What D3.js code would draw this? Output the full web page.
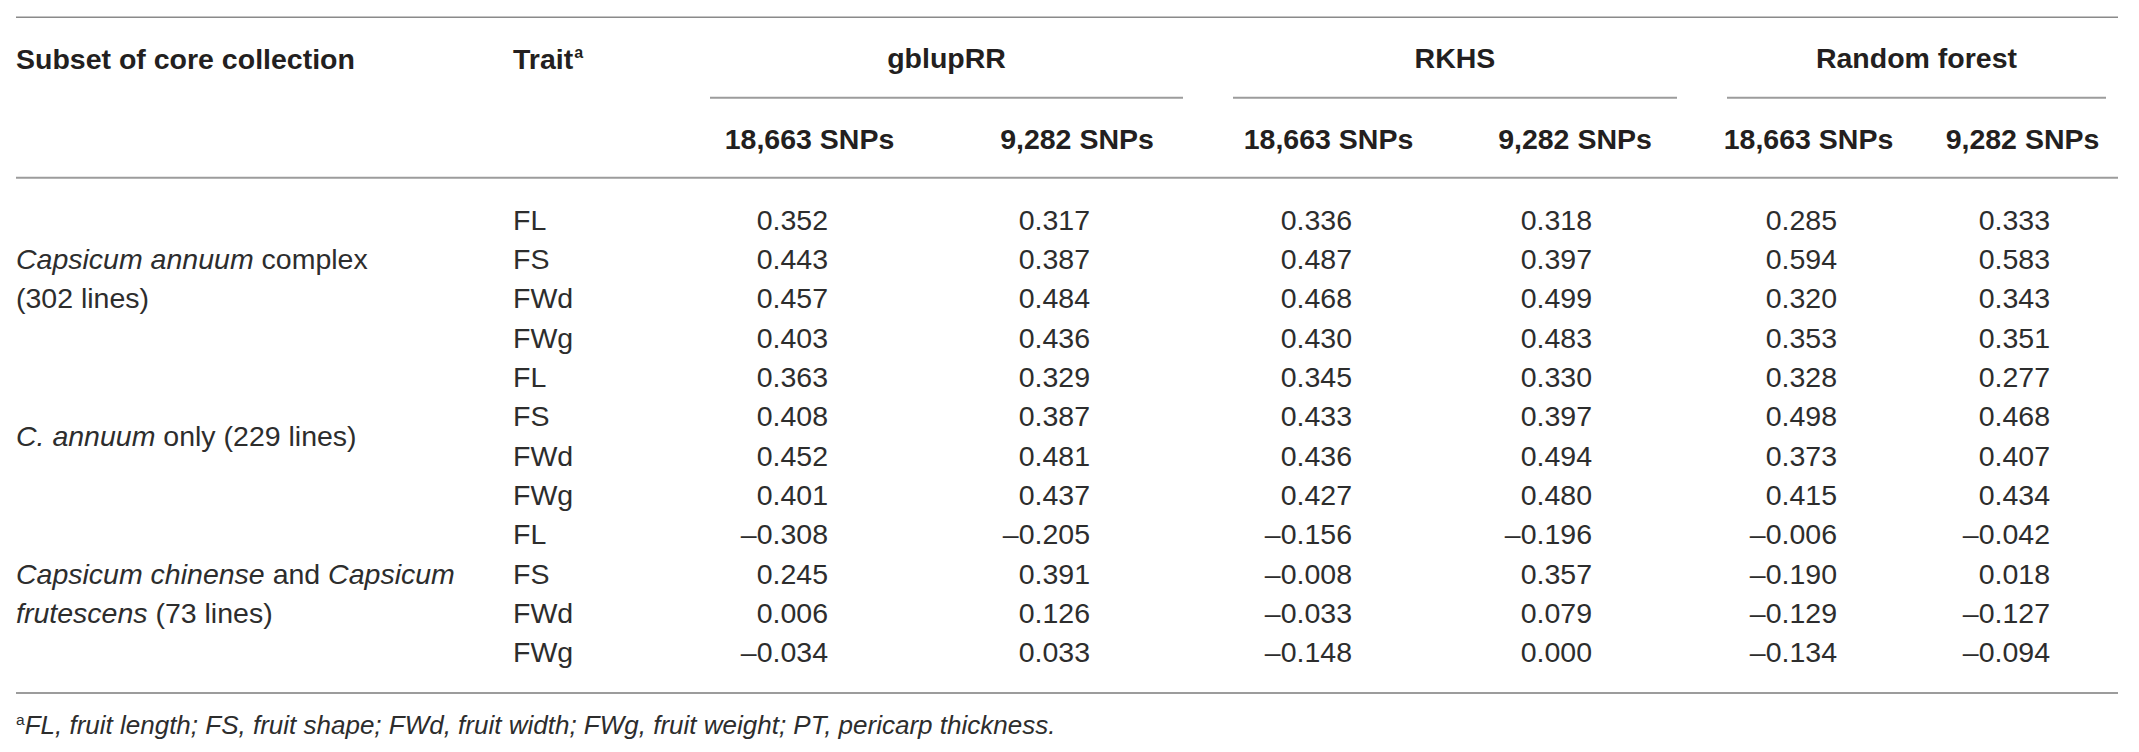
<!DOCTYPE html>
<html>
<head>
<meta charset="utf-8">
<script src="https://cdn.jsdelivr.net/npm/d3@7"></script>
<style>
  html, body { margin: 0; padding: 0; background: #ffffff; }
  svg { display: block; }
  text { font-family: "Liberation Sans", Arial, Helvetica, sans-serif; }
</style>
</head>
<body>
<svg id="chart" width="2139" height="752"></svg>
<script>
// ---------------- DATA ----------------
const traits = ["FL", "FS", "FWd", "FWg"];
const subsets = [
  [[{t: "Capsicum annuum", i: true}, {t: " complex", i: false}], [{t: "(302 lines)", i: false}]],
  [[{t: "C. annuum", i: true}, {t: " only (229 lines)", i: false}]],
  [[{t: "Capsicum chinense", i: true}, {t: " and ", i: false}, {t: "Capsicum", i: true}],
   [{t: "frutescens", i: true}, {t: " (73 lines)", i: false}]]
];
const methods = ["gblupRR", "RKHS", "Random forest"];
const snpSets = ["18,663 SNPs", "9,282 SNPs"];
const gblupRR18663 = [0.352, 0.443, 0.457, 0.403, 0.363, 0.408, 0.452, 0.401, -0.308, 0.245, 0.006, -0.034];
const gblupRR9282  = [0.317, 0.387, 0.484, 0.436, 0.329, 0.387, 0.481, 0.437, -0.205, 0.391, 0.126, 0.033];
const rkhs18663    = [0.336, 0.487, 0.468, 0.430, 0.345, 0.433, 0.436, 0.427, -0.156, -0.008, -0.033, -0.148];
const rkhs9282     = [0.318, 0.397, 0.499, 0.483, 0.330, 0.397, 0.494, 0.480, -0.196, 0.357, 0.079, 0.000];
const rf18663      = [0.285, 0.594, 0.320, 0.353, 0.328, 0.498, 0.373, 0.415, -0.006, -0.190, -0.129, -0.134];
const rf9282       = [0.333, 0.583, 0.343, 0.351, 0.277, 0.468, 0.407, 0.434, -0.042, 0.018, -0.127, -0.094];
const headerSubset = "Subset of core collection";
const headerTrait = "Trait";
const footnote = "FL, fruit length; FS, fruit shape; FWd, fruit width; FWg, fruit weight; PT, pericarp thickness.";

// ---------------- LAYOUT ----------------
const columns = [gblupRR18663, gblupRR9282, rkhs18663, rkhs9282, rf18663, rf9282];
const nRows = subsets.length * traits.length;

const svg = d3.select("#chart");
const ink = "#231f20";
const body = "#2d2d2d";
const rule = "#9c9c9c";
const fs = 28.5;

const xLeft = 16, xRight = 2118;
const rowY = d3.scaleLinear().domain([0, nRows - 1]).range([219.3, 652]);
const step = rowY(1) - rowY(0);
const colRight = d3.scaleOrdinal().domain(d3.range(6)).range([828, 1090, 1352, 1592, 1837, 2050]);
const colHeadCenter = d3.scaleOrdinal().domain(d3.range(6)).range([809.5, 1077, 1328.5, 1575, 1808.5, 2022.5]);
const methodSpan = d3.scaleOrdinal().domain(methods).range([[710, 1183], [1233, 1677], [1727, 2106]]);
const base = 10.2; // baseline offset from visual centre

const fmt = v => d3.format(".3f")(v).replace("\u2212", "\u2013").replace("-", "\u2013");

// rules
[17.3, 177.7, 693].forEach((y, i) => {
  svg.append("line").attr("x1", xLeft).attr("x2", xRight).attr("y1", y).attr("y2", y)
    .attr("stroke", i === 0 ? "#8a8a8a" : rule).attr("stroke-width", i === 0 ? 1.6 : 2);
});
methods.forEach(m => {
  const [a, b] = methodSpan(m);
  svg.append("line").attr("x1", a).attr("x2", b).attr("y1", 97.7).attr("y2", 97.7)
    .attr("stroke", rule).attr("stroke-width", 2);
});

// header row 1
svg.append("text").attr("x", xLeft).attr("y", 59 + base)
  .attr("font-size", fs).attr("font-weight", "bold").attr("fill", ink).text(headerSubset);
const tr = svg.append("text").attr("x", 513).attr("y", 59 + base)
  .attr("font-size", fs).attr("font-weight", "bold").attr("fill", ink);
tr.append("tspan").text(headerTrait);
tr.append("tspan").attr("font-size", 16).attr("dy", -11).attr("dx", 1).text("a");

methods.forEach(m => {
  const [a, b] = methodSpan(m);
  svg.append("text").attr("x", (a + b) / 2).attr("y", 58 + base)
    .attr("text-anchor", "middle").attr("font-size", fs).attr("font-weight", "bold")
    .attr("fill", ink).text(m);
});

// header row 2
d3.range(6).forEach(c => {
  svg.append("text").attr("x", colHeadCenter(c)).attr("y", 138.5 + base)
    .attr("text-anchor", "middle").attr("font-size", fs).attr("font-weight", "bold")
    .attr("fill", ink).text(snpSets[c % 2]);
});

// subset labels
subsets.forEach((lines, g) => {
  const c = (rowY(g * 4) + rowY(g * 4 + 3)) / 2;
  lines.forEach((parts, li) => {
    const y = c + (li - (lines.length - 1) / 2) * step;
    const t = svg.append("text").attr("x", xLeft).attr("y", y + base)
      .attr("font-size", fs).attr("fill", body).attr("xml:space", "preserve");
    parts.forEach(p => {
      t.append("tspan").attr("font-style", p.i ? "italic" : "normal").text(p.t);
    });
  });
});

// traits
d3.range(nRows).forEach(r => {
  svg.append("text").attr("x", 513).attr("y", rowY(r) + base)
    .attr("font-size", fs).attr("fill", body).text(traits[r % traits.length]);
});

// values
columns.forEach((vals, c) => {
  svg.append("g").selectAll("text").data(vals).join("text")
    .attr("x", colRight(c)).attr("y", (d, r) => rowY(r) + base)
    .attr("text-anchor", "end").attr("font-size", fs).attr("fill", body)
    .text(d => fmt(d));
});

// footnote
const fn = svg.append("text").attr("x", xLeft).attr("y", 725 + 9.4)
  .attr("font-size", 26).attr("font-style", "italic").attr("fill", body);
fn.append("tspan").attr("font-size", 15.5).attr("dy", -9).attr("font-style", "normal").text("a");
fn.append("tspan").attr("dy", 9).text(footnote);
</script>
</body>
</html>
